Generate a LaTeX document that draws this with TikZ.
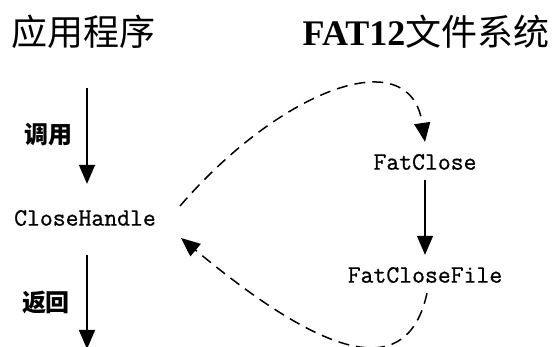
\documentclass[tikz,border=0pt]{standalone}
\usepackage{fontspec}
\setmainfont{Liberation Serif}
\newfontfamily\cjk{Noto Sans CJK SC}
\newfontfamily\codefont{Latin Modern Mono}[FakeBold=0.8]
\usetikzlibrary{arrows.meta,positioning,calc}

\begin{document}
\begin{tikzpicture}[
  x=1pt, y=-1pt,
  >={Triangle[width=16pt,length=19pt]},
  title/.style={font=\fontsize{36}{40}\selectfont, inner sep=0pt},
  func/.style={font=\codefont\fontsize{25}{28}\selectfont, inner sep=0pt},
  tag/.style={font=\cjk\bfseries\fontsize{24}{26}\selectfont, inner sep=0pt},
  callarr/.style={->, line width=1.5pt},
  retarr/.style={->, line width=1.5pt, dash pattern=on 11pt off 7pt},
]
  \useasboundingbox (0,0) rectangle (558,347);
  \clip (0,0) rectangle (558,347);

  % Column titles
  \node[title] (app) at (84,32) {\cjk 应用程序};
  \node[title] (fs) at (426,32) {{\bfseries FAT12}\cjk 文件系统};

  % Functions
  \node[func] (ch) at (85,218) {CloseHandle};
  \node[func] (fc) at (425,162) {FatClose};
  \node[func] (fcf) at (425,275) {FatCloseFile};

  % Free ends of the application arrows
  \coordinate (callin) at (87,88);
  \coordinate (retout) at (87,349);

  % Labels on the left
  \node[tag] (call) at (48,135) {调用};
  \node[tag] (ret) at (46,303) {返回};

  % Solid arrows
  \draw[callarr, shorten >=26pt] (callin) -- (callin |- ch.north);
  \draw[callarr, shorten <=29pt] (callin |- ch.south) -- (retout);
  \draw[callarr, shorten <=10pt, shorten >=12pt] (fc.south) -- (fcf.north);

  % Dashed transitions between the two sides
  \draw[retarr] ([shift={(24,-12)}]ch.east)
    .. controls (280,90) and (410,40) .. ([shift={(0,-12)}]fc.north);
  \draw[retarr] ([shift={(2,10)}]fcf.south)
    .. controls (408,380) and (330,362) .. ([shift={(25,20)}]ch.east);
\end{tikzpicture}
\end{document}
